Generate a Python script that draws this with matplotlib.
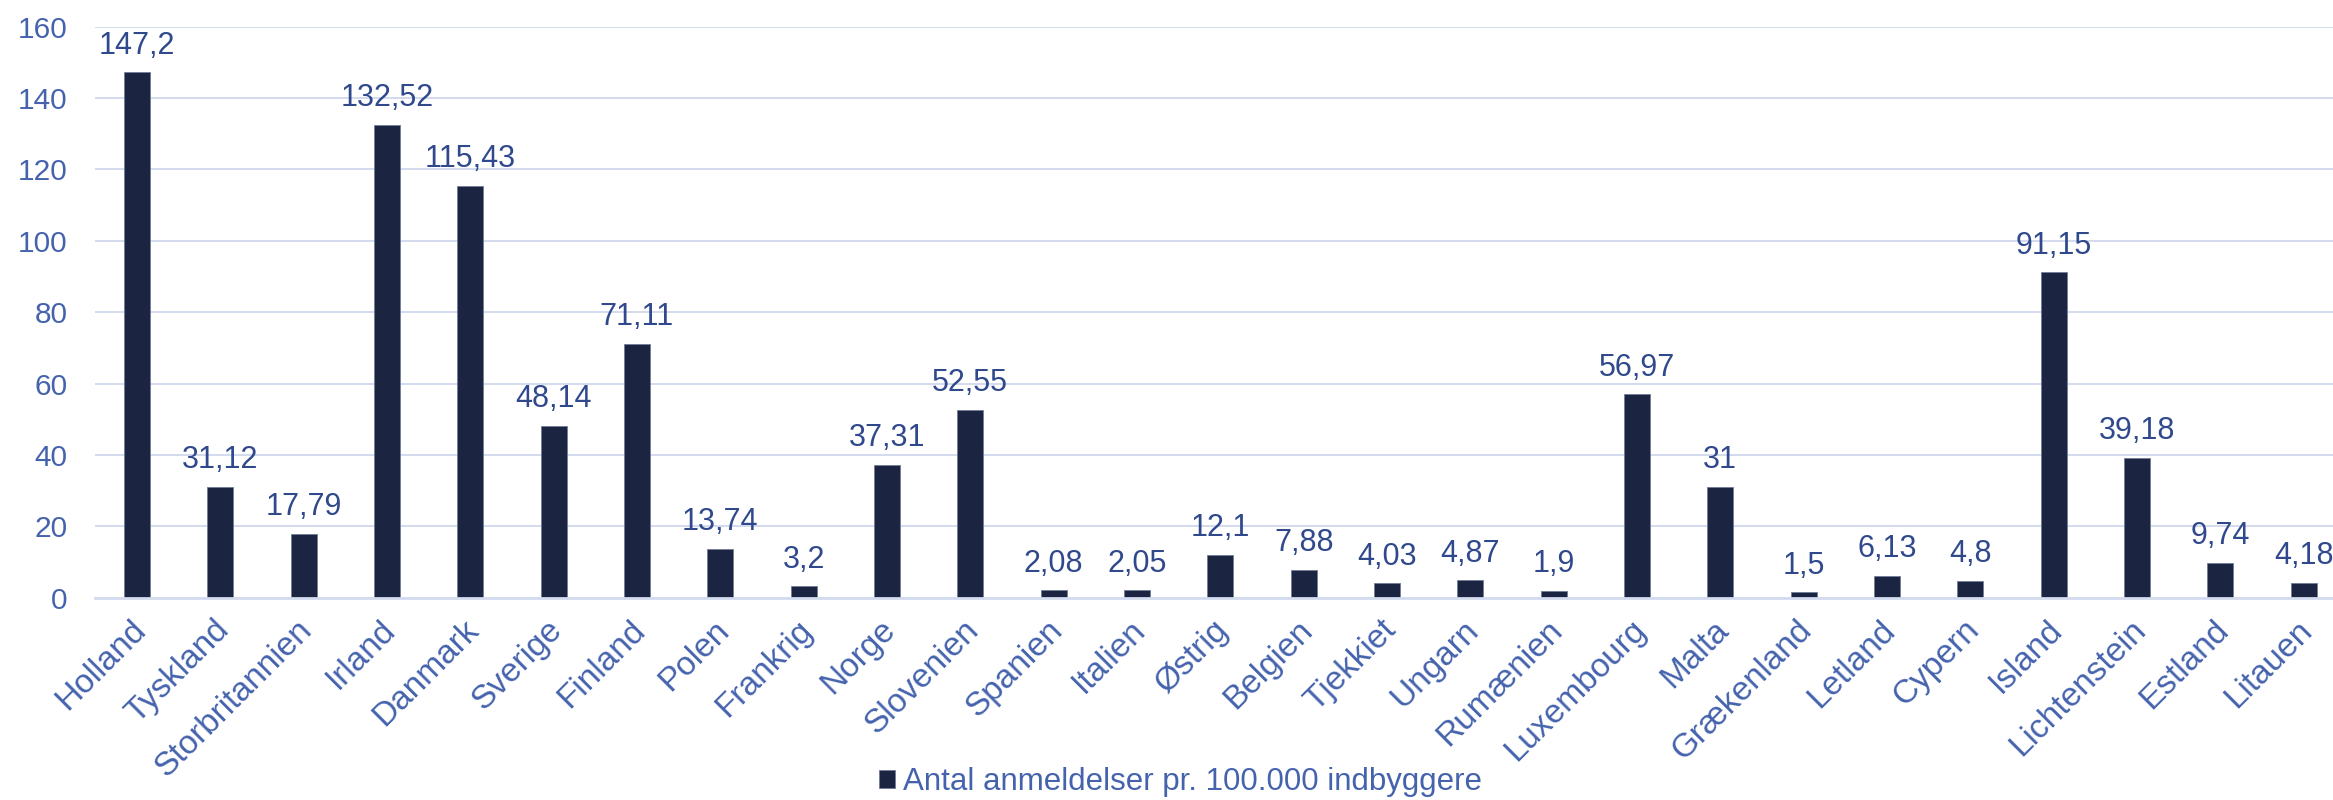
import matplotlib
matplotlib.use('Agg')
import matplotlib.pyplot as plt
import matplotlib.transforms as mtransforms

# data
lande = ['Holland', 'Tyskland', 'Storbritannien', 'Irland', 'Danmark', 'Sverige', 'Finland',
         'Polen', 'Frankrig', 'Norge', 'Slovenien', 'Spanien', 'Italien', 'Østrig', 'Belgien',
         'Tjekkiet', 'Ungarn', 'Rumænien', 'Luxembourg', 'Malta', 'Grækenland', 'Letland',
         'Cypern', 'Island', 'Lichtenstein', 'Estland', 'Litauen']
anmeldelser = [147.2, 31.12, 17.79, 132.52, 115.43, 48.14, 71.11, 13.74, 3.2, 37.31, 52.55,
               2.08, 2.05, 12.1, 7.88, 4.03, 4.87, 1.9, 56.97, 31, 1.5, 6.13, 4.8, 91.15,
               39.18, 9.74, 4.18]
y_ticks = [0, 20, 40, 60, 80, 100, 120, 140, 160]
serie_navn = 'Antal anmeldelser pr. 100.000 indbyggere'

bar_farve = '#1b2541'
tick_farve = '#4563ad'
label_farve = '#30498c'
grid_farve = '#d3dbee'

plt.rcParams['font.family'] = ['Liberation Sans', 'DejaVu Sans']

W, H = 2333, 800
fig = plt.figure(figsize=(W / 100, H / 100), dpi=100)
left = 95.3 / W
bottom = 1 - 597.7 / H
top = 1 - 26.7 / H
ax = fig.add_axes([left, bottom, 2250 / W, top - bottom])

x = list(range(len(lande)))
bars = ax.bar(x, anmeldelser, width=0.31, color=bar_farve, edgecolor='#6f7d96',
              linewidth=0.6, label=serie_navn, zorder=3)

for xi, v in zip(x, anmeldelser):
    ax.annotate(f'{v:g}'.replace('.', ','), (xi, v), xytext=(0, 13.5),
                textcoords='offset points', ha='center', va='baseline',
                fontsize=22, color=label_farve)

ax.set_xlim(-0.5, len(lande) - 0.5)
ax.set_ylim(0, 160)
ax.set_yticks(y_ticks)
ax.yaxis.grid(True, color=grid_farve, linewidth=1.4, zorder=0)
ax.set_axisbelow(True)
for s in ['top', 'right', 'left']:
    ax.spines[s].set_visible(False)
ax.spines['bottom'].set_color(grid_farve)
ax.spines['bottom'].set_linewidth(2)
ax.spines['bottom'].set_zorder(4)

ax.tick_params(axis='y', length=0, pad=20, labelsize=21.5, colors=tick_farve)
ax.tick_params(axis='x', length=0, pad=12, labelsize=24, colors=tick_farve)
ax.set_xticks(x)
ax.set_xticklabels(lande, rotation=45, ha='right', rotation_mode='anchor')
skub = mtransforms.ScaledTranslation(-7 / 100, 0, fig.dpi_scale_trans)
for lbl in ax.get_xticklabels():
    lbl.set_transform(lbl.get_transform() + skub)

leg = fig.legend(handles=[bars], labels=[serie_navn], loc='center left',
                 bbox_to_anchor=(879 / W, 1 - 782 / H), frameon=False,
                 prop={'family': 'Liberation Sans', 'size': 22.5},
                 handlelength=0.52, handleheight=0.52, handletextpad=0.25,
                 borderpad=0, borderaxespad=0)
for t in leg.get_texts():
    t.set_color(tick_farve)

fig.savefig('out.png', dpi=100)
